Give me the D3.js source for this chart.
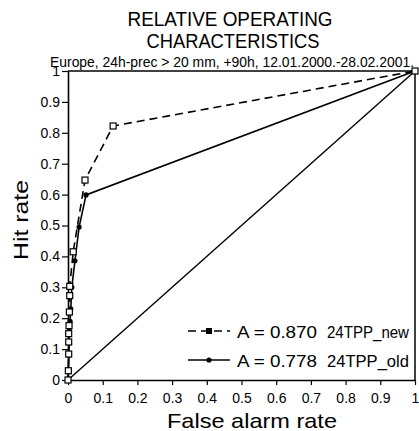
<!DOCTYPE html>
<html>
<head>
<meta charset="utf-8">
<script src="https://cdn.jsdelivr.net/npm/d3@7"></script>
<style>
  body { margin: 0; background: #fff; }
  svg { font-family: "Liberation Sans", Arial, sans-serif; }
</style>
</head>
<body>
<div id="chart"></div>
<script>
// ROC points
var farNew = [0, 0.001, 0.002, 0.002, 0.002, 0.003, 0.004, 0.005, 0.005, 0.015, 0.049, 0.13, 1];
var hrNew  = [0, 0.03, 0.084, 0.123, 0.15, 0.176, 0.22, 0.273, 0.303, 0.415, 0.647, 0.822, 1];
var farOld = [0, 0.001, 0.002, 0.003, 0.004, 0.006, 0.008, 0.011, 0.02, 0.032, 0.052, 1];
var hrOld  = [0, 0.03, 0.08, 0.12, 0.16, 0.19, 0.23, 0.3, 0.386, 0.495, 0.599, 1];
var legendScores = ["A = 0.870", "A = 0.778"];
var legendNames = ["24TPP_new", "24TPP_old"];
var xTicks = [0, 0.1, 0.2, 0.3, 0.4, 0.5, 0.6, 0.7, 0.8, 0.9, 1];
var yTicks = [0, 0.1, 0.2, 0.3, 0.4, 0.5, 0.6, 0.7, 0.8, 0.9, 1];

var width = 419, height = 431;
var margin = {top: 71, right: 4, bottom: 51, left: 68};
var innerW = width - margin.left - margin.right,
    innerH = height - margin.top - margin.bottom;

var svg = d3.select("#chart").append("svg")
    .attr("width", width)
    .attr("height", height);

var x = d3.scaleLinear().domain([0, 1]).range([0, innerW]);
var y = d3.scaleLinear().domain([0, 1]).range([innerH, 0]);

// titles
svg.append("text").attr("x", 230).attr("y", 26).attr("text-anchor", "middle")
    .attr("font-size", 21).attr("textLength", 205).attr("lengthAdjust", "spacingAndGlyphs")
    .text("RELATIVE OPERATING");
svg.append("text").attr("x", 233).attr("y", 48).attr("text-anchor", "middle")
    .attr("font-size", 21).attr("textLength", 173).attr("lengthAdjust", "spacingAndGlyphs")
    .text("CHARACTERISTICS");
svg.append("text").attr("x", 232).attr("y", 67).attr("text-anchor", "middle")
    .attr("font-size", 14).attr("textLength", 364).attr("lengthAdjust", "spacingAndGlyphs")
    .text("Europe, 24h-prec > 20 mm, +90h, 12.01.2000.-28.02.2001.");

var g = svg.append("g").attr("transform", "translate(" + margin.left + "," + margin.top + ")");

// frame top and right
g.append("line").attr("x1", 0).attr("x2", innerW).attr("y1", 0).attr("y2", 0)
    .attr("stroke", "#000").attr("stroke-width", 1.5);
g.append("line").attr("x1", innerW).attr("x2", innerW).attr("y1", 0).attr("y2", innerH)
    .attr("stroke", "#000").attr("stroke-width", 1.5);

var fmt = function(d){ return d === 0 || d === 1 ? String(d) : d3.format(".1f")(d); };

var xAxis = d3.axisBottom(x).tickValues(xTicks).tickFormat(fmt).tickSize(5).tickSizeOuter(0);
var yAxis = d3.axisLeft(y).tickValues(yTicks).tickFormat(fmt).tickSize(6).tickSizeOuter(0);

g.append("g").attr("class", "x-axis")
    .attr("transform", "translate(0," + innerH + ")")
    .call(xAxis);
g.append("g").attr("class", "y-axis").call(yAxis);

g.selectAll(".domain").attr("stroke", "#000").attr("stroke-width", 1.6);
g.selectAll(".tick line").attr("stroke", "#000").attr("stroke-width", 1.2);
g.selectAll(".tick text").attr("fill", "#000").attr("font-size", 14);
g.select(".x-axis").selectAll(".tick text").attr("dy", "1.05em");
g.select(".y-axis").selectAll(".tick text").attr("x", -8);

// axis titles
svg.append("text").attr("x", 252).attr("y", 428).attr("text-anchor", "middle")
    .attr("font-size", 21).attr("textLength", 170).attr("lengthAdjust", "spacingAndGlyphs")
    .text("False alarm rate");
svg.append("text").attr("transform", "translate(28,220) rotate(-90)").attr("text-anchor", "middle")
    .attr("font-size", 21).attr("textLength", 80).attr("lengthAdjust", "spacingAndGlyphs")
    .text("Hit rate");

// no-skill diagonal
g.append("line").attr("x1", x(0)).attr("y1", y(0)).attr("x2", x(1)).attr("y2", y(1))
    .attr("stroke", "#000").attr("stroke-width", 1.4);

var line = d3.line().x(function(d){ return x(d[0]); }).y(function(d){ return y(d[1]); });
var ptsNew = farNew.map(function(d, i){ return [d, hrNew[i]]; });
var ptsOld = farOld.map(function(d, i){ return [d, hrOld[i]]; });

g.append("path").datum(ptsOld).attr("d", line)
    .attr("fill", "none").attr("stroke", "#000").attr("stroke-width", 1.6);
g.append("path").datum(ptsNew).attr("d", line)
    .attr("fill", "none").attr("stroke", "#000").attr("stroke-width", 1.6)
    .attr("stroke-dasharray", "8,5");

g.selectAll(".dot").data(ptsOld).enter().append("circle")
    .attr("class", "dot")
    .attr("cx", function(d){ return x(d[0]); })
    .attr("cy", function(d){ return y(d[1]); })
    .attr("r", 2.6).attr("fill", "#000");
g.selectAll(".sq").data(ptsNew).enter().append("rect")
    .attr("class", "sq")
    .attr("x", function(d){ return x(d[0]) - 3; })
    .attr("y", function(d){ return y(d[1]) - 3; })
    .attr("width", 6).attr("height", 6)
    .attr("fill", "#fff").attr("stroke", "#000").attr("stroke-width", 1.2);

// legend
var legend = svg.append("g");
[0, 1].forEach(function(i){
    var ly = 331 + i * 29;
    legend.append("line").attr("x1", 188).attr("x2", 230).attr("y1", ly).attr("y2", ly)
        .attr("stroke", "#000").attr("stroke-width", 1.6)
        .attr("stroke-dasharray", i === 0 ? "8,5" : null);
    if(i === 0){
        legend.append("rect").attr("x", 206).attr("y", ly - 3).attr("width", 6).attr("height", 6)
            .attr("fill", "#000");
    }else{
        legend.append("circle").attr("cx", 209).attr("cy", ly).attr("r", 2.6).attr("fill", "#000");
    }
    legend.append("text").attr("x", 237).attr("y", ly + 6.5)
        .attr("font-size", 17).attr("textLength", 80).attr("lengthAdjust", "spacingAndGlyphs")
        .text(legendScores[i]);
    legend.append("text").attr("x", 327).attr("y", ly + 6.5)
        .attr("font-size", 17).attr("textLength", 82).attr("lengthAdjust", "spacingAndGlyphs")
        .text(legendNames[i]);
});
</script>
</body>
</html>
